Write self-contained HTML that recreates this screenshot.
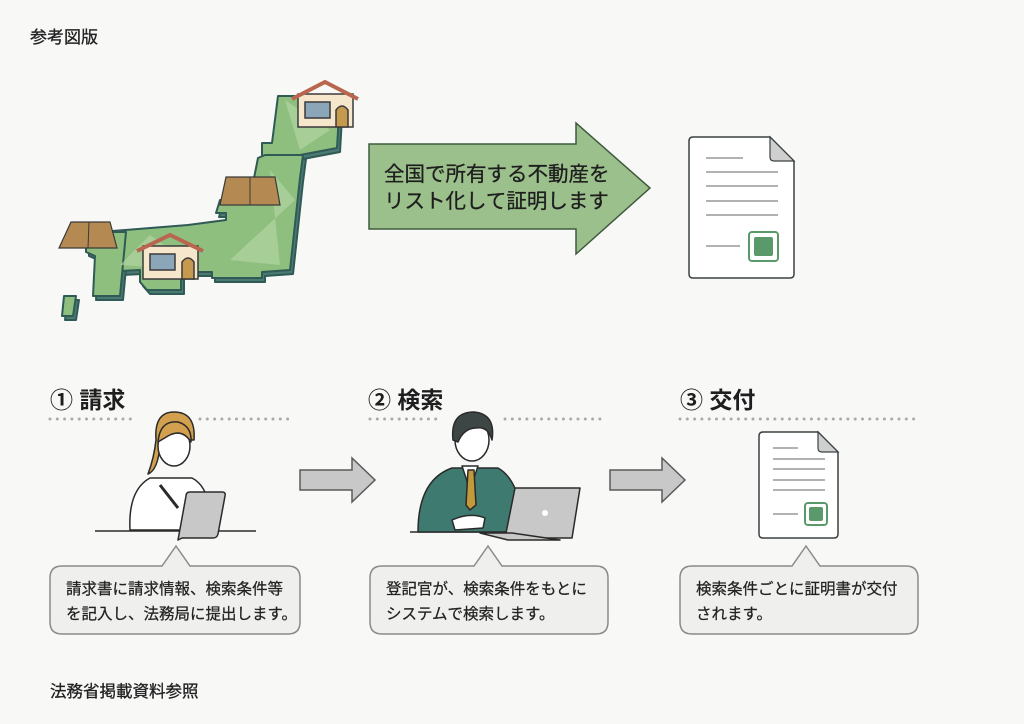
<!DOCTYPE html>
<html><head><meta charset="utf-8"><style>
html,body{margin:0;padding:0;background:#f8f8f7;}
body{width:1024px;height:724px;overflow:hidden;position:relative;font-family:"Liberation Sans","Noto Sans CJK JP",sans-serif;}
svg{position:absolute;left:0;top:0;}
</style></head><body>
<svg width="1024" height="724" viewBox="0 0 1024 724" xmlns="http://www.w3.org/2000/svg" font-family="Liberation Sans, Noto Sans CJK JP, sans-serif">
<rect width="1024" height="724" fill="#f8f8f7"/>
<text x="30" y="43" font-size="17" fill="#222" stroke="#222" stroke-width="0.3">参考図版</text>

<!-- Japan map -->
<g stroke="#2f5a55" stroke-width="2" stroke-linejoin="round">
 <g fill="#4a7a72" transform="translate(3,4)">
  <path d="M278 96 L340 96 L337 148 L300 155 L300 158 L262 158 L262 143 L272 143 Z"/>
  <path d="M265 155 L303 155 L300 178 L290 270 L262 272 L262 278 L212 278 L212 272 L181 272 L181 290 L147 290 L140 282 L140 270 L100 272 L100 232 L188 225 L226 220 L226 213 L216 213 L220 200 L250 198 L258 158 Z"/>
  <path d="M86 232 L126 232 L120 296 L93 296 L95 256 L86 252 Z"/>
  <path d="M64 296 L76 296 L73 316 L62 316 Z"/>
 </g>
 <g fill="#8fbf7f">
  <path d="M278 96 L340 96 L337 148 L300 155 L300 158 L262 158 L262 143 L272 143 Z"/>
  <path d="M265 155 L303 155 L300 178 L290 270 L262 272 L262 278 L212 278 L212 272 L181 272 L181 290 L147 290 L140 282 L140 270 L100 272 L100 232 L188 225 L226 220 L226 213 L216 213 L220 200 L250 198 L258 158 Z"/>
  <path d="M86 232 L126 232 L120 296 L93 296 L95 256 L86 252 Z"/>
  <path d="M64 296 L76 296 L73 316 L62 316 Z"/>
 </g>
</g>
<g fill="#b6d8a6" opacity="0.6">
 <path d="M285 100 L330 130 L300 150 Z"/>
 <path d="M270 170 L295 200 L230 260 L280 265 Z"/>
 <path d="M150 235 L200 270 L120 265 Z"/>
</g>
<!-- houses -->
<g stroke="#3a3a3a" stroke-width="1.5">
 <rect x="298" y="94" width="55" height="33" fill="#f6e6cc"/>
 <path d="M292 99 L325 82 L358 99" fill="none" stroke="#b86650" stroke-width="4"/>
 <rect x="305" y="102" width="25" height="16" fill="#8aa6b8"/>
 <path d="M336 127 L336 110 Q342 102 348 110 L348 127 Z" fill="#c59a4f"/>
 <rect x="143" y="246" width="55" height="33" fill="#f6e6cc"/>
 <path d="M137 251 L170 235 L203 251" fill="none" stroke="#b86650" stroke-width="4"/>
 <rect x="150" y="254" width="25" height="16" fill="#8aa6b8"/>
 <path d="M182 279 L182 262 Q188 254 194 262 L194 279 Z" fill="#c59a4f"/>
</g>
<g stroke="#3a3a3a" stroke-width="1.2" fill="#b58a52">
 <path d="M226 177 L275 177 L280 205 L220 205 Z"/>
 <path d="M71 222 L110 222 L117 248 L59 248 Z"/>
</g>
<g stroke="#3a3a3a" stroke-width="1">
 <line x1="250" y1="177" x2="250" y2="205"/><line x1="89" y1="222" x2="88" y2="248"/>
</g>

<!-- big arrow -->
<path d="M369 144 L576 144 L576 123 L650 188 L576 254 L576 229 L369 229 Z" fill="#9cc08c" stroke="#3e5a3e" stroke-width="1.5"/>
<text x="384" y="181" font-size="20.5" fill="#1e1e1e" stroke="#1e1e1e" stroke-width="0.3">全国で所有する不動産を</text>
<text x="384" y="208" font-size="20.5" fill="#1e1e1e" stroke="#1e1e1e" stroke-width="0.3">リスト化して証明します</text>

<!-- doc 1 -->
<g>
 <path d="M693 137 L770 137 L794 161 L794 274 Q794 278 790 278 L693 278 Q689 278 689 274 L689 141 Q689 137 693 137 Z" fill="#fff" stroke="#3a4040" stroke-width="1.5"/>
 <path d="M770 137 L770 157 Q770 161 774 161 L794 161 Z" fill="#cfcfcf" stroke="#3a4040" stroke-width="1.2"/>
 <g stroke="#999" stroke-width="1.5">
  <line x1="706" y1="158" x2="743" y2="158"/><line x1="706" y1="172" x2="778" y2="172"/>
  <line x1="706" y1="186" x2="778" y2="186"/><line x1="706" y1="201" x2="778" y2="201"/>
  <line x1="706" y1="215" x2="778" y2="215"/><line x1="706" y1="246" x2="740" y2="246"/>
 </g>
 <rect x="749" y="232" width="29" height="29" rx="3" fill="#fff" stroke="#5a9a6a" stroke-width="2"/>
 <rect x="754" y="237" width="19" height="19" rx="2" fill="#5a9a6a"/>
</g>

<!-- step headings -->
<g font-size="23" font-weight="bold" fill="#1e1e1e">
 <text x="50" y="408">① 請求</text>
 <text x="368" y="408">② 検索</text>
 <text x="680" y="408">③ 交付</text>
</g>
<g stroke="#aaa" stroke-width="3" stroke-linecap="round" stroke-dasharray="0 7.3">
 <line x1="50" y1="419" x2="135" y2="419"/><line x1="200" y1="419" x2="292" y2="419"/>
 <line x1="370" y1="419" x2="440" y2="419"/><line x1="505" y1="419" x2="605" y2="419"/>
 <line x1="680" y1="419" x2="915" y2="419"/>
</g>

<!-- gray arrows -->
<g fill="#c8c8c8" stroke="#5a5a5a" stroke-width="1.5">
 <path d="M300 470 L352 470 L352 458 L375 480 L352 502 L352 490 L300 490 Z"/>
 <path d="M610 470 L662 470 L662 458 L685 480 L662 502 L662 490 L610 490 Z"/>
</g>

<!-- woman -->
<g stroke="#2a2a2a" stroke-width="1.5" stroke-linejoin="round">
 <line x1="95" y1="531" x2="256" y2="531"/>
 <path d="M130 530 Q128 490 150 478 L192 478 Q212 488 210 530 Z" fill="#fff"/>
 <path d="M156 440 Q154 412 174 412 Q196 412 194 440 L188 440 L160 445 Q158 470 148 474 Q154 458 156 440 Z" fill="#d2a04e"/>
 <ellipse cx="174" cy="446" rx="16" ry="20" fill="#fff"/>
 <path d="M158 442 Q160 420 178 422 Q192 426 191 442 Q182 428 168 436 Z" fill="#d2a04e"/>
 <path d="M178 540 L186 496 Q186 492 190 492 L222 492 Q226 492 225 496 L218 534 Q217 538 213 538 L182 538 Z" fill="#c8c8c8"/>
 <line x1="160" y1="485" x2="178" y2="508" stroke-width="3"/>
</g>

<!-- man -->
<g stroke="#2a2a2a" stroke-width="1.5" stroke-linejoin="round">
 <line x1="410" y1="532" x2="560" y2="532"/>
 <path d="M418 532 Q418 480 452 468 L498 468 Q520 480 525 532 Z" fill="#3f7a70"/>
 <path d="M462 466 L470 490 L478 466 Z" fill="#fff"/>
 <path d="M468 470 L474 470 L476 505 L470 510 L466 505 Z" fill="#c29a3a"/>
 <ellipse cx="472" cy="440" rx="17" ry="21" fill="#fff"/>
 <path d="M453 440 Q450 412 474 412 Q496 414 492 440 Q488 426 476 428 Q464 428 458 442 Z" fill="#3d4644"/>
 <path d="M505 538 L515 488 L580 488 L572 538 Z" fill="#c8c8c8"/>
 <path d="M480 533 L508 540 L560 540 L512 533 Z" fill="#c8c8c8"/>
 <circle cx="545" cy="513" r="3" fill="#fff" stroke="none"/>
 <path d="M452 520 Q470 512 485 518 L483 528 L455 530 Z" fill="#fff"/>
</g>

<!-- doc 2 -->
<g>
 <path d="M763 432 L818 432 L838 452 L838 534 Q838 538 834 538 L763 538 Q759 538 759 534 L759 436 Q759 432 763 432 Z" fill="#fff" stroke="#3a4040" stroke-width="1.5"/>
 <path d="M818 432 L818 448 Q818 452 822 452 L838 452 Z" fill="#cfcfcf" stroke="#3a4040" stroke-width="1.2"/>
 <g stroke="#999" stroke-width="1.5">
  <line x1="773" y1="448" x2="798" y2="448"/><line x1="773" y1="459" x2="825" y2="459"/>
  <line x1="773" y1="469" x2="825" y2="469"/><line x1="773" y1="480" x2="825" y2="480"/>
  <line x1="773" y1="490" x2="825" y2="490"/><line x1="773" y1="514" x2="798" y2="514"/>
 </g>
 <rect x="805" y="503" width="22" height="22" rx="3" fill="#fff" stroke="#5a9a6a" stroke-width="2"/>
 <rect x="809" y="507" width="14" height="14" rx="2" fill="#5a9a6a"/>
</g>

<!-- bubbles -->
<g fill="#efefed" stroke="#8a8a8a" stroke-width="1.5">
 <path d="M62 566 L162 566 L176 546 L190 566 L288 566 Q300 566 300 578 L300 622 Q300 634 288 634 L62 634 Q50 634 50 622 L50 578 Q50 566 62 566 Z"/>
 <path d="M382 566 L474 566 L488 546 L502 566 L596 566 Q608 566 608 578 L608 622 Q608 634 596 634 L382 634 Q370 634 370 622 L370 578 Q370 566 382 566 Z"/>
 <path d="M692 566 L792 566 L806 546 L820 566 L906 566 Q918 566 918 578 L918 622 Q918 634 906 634 L692 634 Q680 634 680 622 L680 578 Q680 566 692 566 Z"/>
</g>
<g font-size="15.5" fill="#222" stroke="#222" stroke-width="0.25">
 <text x="66" y="594">請求書に請求情報、検索条件等</text>
 <text x="66" y="619">を記入し、法務局に提出します。</text>
 <text x="386" y="594">登記官が、検索条件をもとに</text>
 <text x="386" y="619">システムで検索します。</text>
 <text x="696" y="594">検索条件ごとに証明書が交付</text>
 <text x="696" y="619">されます。</text>
</g>

<text x="50" y="697" font-size="16.5" fill="#222" stroke="#222" stroke-width="0.3">法務省掲載資料参照</text>
</svg>
</body></html>
